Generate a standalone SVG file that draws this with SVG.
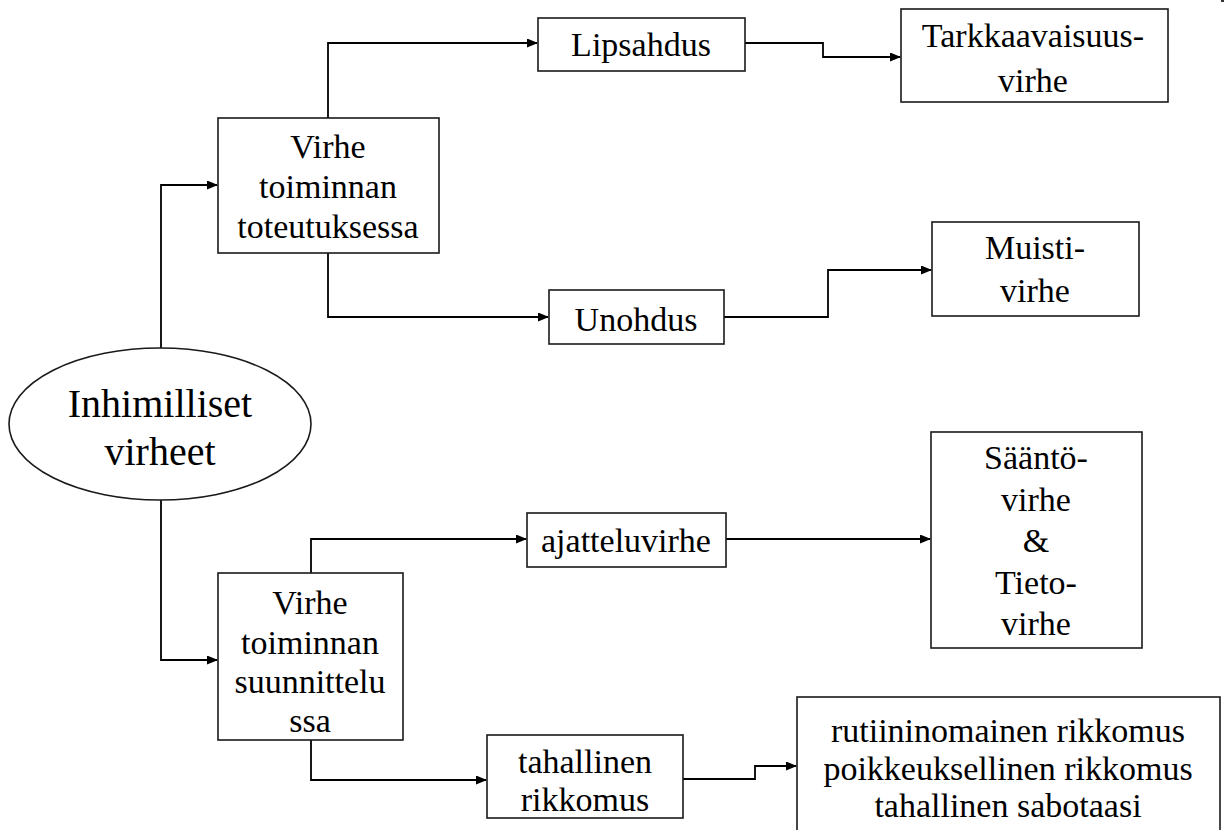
<svg xmlns="http://www.w3.org/2000/svg" width="1226" height="830" viewBox="0 0 1226 830">
  <style>
    .box { fill: #ffffff; stroke: #1a1a1a; stroke-width: 1.6; }
    text { font-family: 'Liberation Serif', 'DejaVu Serif', serif; font-size: 34px; fill: #000; text-anchor: middle; }
    .big { font-size: 40px; }
    .wire { fill: none; stroke: #000; stroke-width: 1.8; }
  </style>
  <defs>
    <marker id="arrow" markerWidth="11" markerHeight="10" refX="10" refY="4.5" orient="auto" markerUnits="userSpaceOnUse">
      <path d="M0,0 L11,4.5 L0,9 z" fill="#000"/>
    </marker>
  </defs>
  <rect width="1226" height="830" fill="#ffffff"/>

  <!-- connectors -->
  <g id="connectors">
    <path class="wire" d="M161,348 V185 H217" marker-end="url(#arrow)"/>
    <path class="wire" d="M161,500 V660 H217" marker-end="url(#arrow)"/>
    <path class="wire" d="M328,118 V43 H537" marker-end="url(#arrow)"/>
    <path class="wire" d="M328,253 V317 H548" marker-end="url(#arrow)"/>
    <path class="wire" d="M745,43 H823 V57 H900" marker-end="url(#arrow)"/>
    <path class="wire" d="M724,317 H828 V270 H931" marker-end="url(#arrow)"/>
    <path class="wire" d="M311,573 V539 H526" marker-end="url(#arrow)"/>
    <path class="wire" d="M726,539 H930" marker-end="url(#arrow)"/>
    <path class="wire" d="M311,740 V780 H486" marker-end="url(#arrow)"/>
    <path class="wire" d="M683,779 H755 V766 H796" marker-end="url(#arrow)"/>
  </g>

  <g id="root">
    <ellipse class="box" cx="160" cy="424" rx="151" ry="76"/>
    <text class="big" x="160" y="417">Inhimilliset</text>
    <text class="big" x="160" y="465">virheet</text>
  </g>

  <g id="toteutus">
    <rect class="box" x="218" y="118" width="221" height="135"/>
    <text x="328" y="158">Virhe</text>
    <text x="328" y="198">toiminnan</text>
    <text x="328" y="238">toteutuksessa</text>
  </g>

  <g id="suunnittelu">
    <rect class="box" x="218" y="573" width="185" height="167"/>
    <text x="310" y="614">Virhe</text>
    <text x="310" y="654">toiminnan</text>
    <text x="310" y="693">suunnittelu</text>
    <text x="310" y="732">ssa</text>
  </g>

  <g id="lipsahdus">
    <rect class="box" x="538" y="18" width="207" height="53"/>
    <text x="641" y="56">Lipsahdus</text>
  </g>

  <g id="unohdus">
    <rect class="box" x="549" y="290" width="175" height="54"/>
    <text x="636" y="331">Unohdus</text>
  </g>

  <g id="tarkkaavaisuus">
    <rect class="box" x="901" y="9" width="267" height="93"/>
    <text x="1033" y="47">Tarkkaavaisuus-</text>
    <text x="1033" y="92">virhe</text>
  </g>

  <g id="muisti">
    <rect class="box" x="932" y="222" width="207" height="94"/>
    <text x="1035" y="259">Muisti-</text>
    <text x="1035" y="302">virhe</text>
  </g>

  <g id="ajattelu">
    <rect class="box" x="527" y="513" width="199" height="54"/>
    <text x="626" y="552">ajatteluvirhe</text>
  </g>

  <g id="saanto">
    <rect class="box" x="931" y="432" width="211" height="216"/>
    <text x="1036" y="469">Sääntö-</text>
    <text x="1036" y="511">virhe</text>
    <text x="1036" y="552">&amp;</text>
    <text x="1036" y="594">Tieto-</text>
    <text x="1036" y="635">virhe</text>
  </g>

  <g id="tahallinen">
    <rect class="box" x="487" y="735" width="196" height="83"/>
    <text x="585" y="773">tahallinen</text>
    <text x="585" y="811">rikkomus</text>
  </g>

  <g id="rikkomukset">
    <rect class="box" x="797" y="697" width="423" height="140"/>
    <text x="1008" y="742">rutiininomainen rikkomus</text>
    <text x="1008" y="780">poikkeuksellinen rikkomus</text>
    <text x="1008" y="817">tahallinen sabotaasi</text>
  </g>

  <!-- small corner mark -->
  <rect x="1221" y="0" width="3" height="2" fill="#333"/>
</svg>
